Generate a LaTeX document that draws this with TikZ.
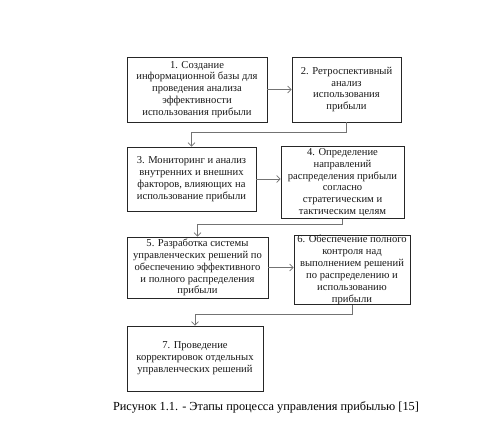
\documentclass[tikz,border=0pt]{standalone}
\usepackage{fontspec}
\setmainfont{Liberation Serif}
\usetikzlibrary{arrows.meta}
\tikzset{
  stage/.style={draw=black!85, line width=0.9pt, inner sep=0pt, align=center,
    text=black!90, font=\fontsize{10.6}{11.9}\selectfont},
  link/.style={draw=black!55, line width=0.6pt,
    -{Straight Barb[length=3.5pt,width=7pt,line width=0.6pt]}},
  caption/.style={font=\fontsize{12.3}{14}\selectfont, text=black}
}
\begin{document}
\begin{tikzpicture}[x=1pt,y=-1pt]
\useasboundingbox[fill=white] (0,0) rectangle (499,440);
\node[stage, minimum width=140pt, minimum height=65pt] (b1) at (197,89.5)
  {1. Создание\\информационной базы для\\проведения анализа\\эффективности\\использования прибыли};
\node[stage, minimum width=109pt, minimum height=65pt] (b2) at (346.5,89.5)
  {2. Ретроспективный\\анализ\\использования\\прибыли};
\node[stage, minimum width=129pt, minimum height=64pt] (b3) at (191.5,179)
  {3. Мониторинг и анализ\\внутренних и внешних\\факторов, влияющих на\\использование прибыли};
\node[stage, minimum width=123pt, minimum height=72pt] (b4) at (342.5,182.5)
  {4. Определение\\направлений\\распределения прибыли\\согласно\\стратегическим и\\тактическим целям};
\node[stage, minimum width=141pt, minimum height=61pt] (b5) at (197.5,267.5)
  {5. Разработка системы\\управленческих решений по\\обеспечению эффективного\\и полного распределения\\прибыли};
\node[stage, minimum width=116pt, minimum height=66pt] (b6) at (352,270)
  {6. Обеспечение полного\\контроля над\\выполнением решений\\по распределению и\\использованию\\прибыли};
\node[stage, minimum width=136pt, minimum height=65pt] (b7) at (195,358.5)
  {7. Проведение\\корректировок отдельных\\управленческих решений};
\node[caption] (cap) at (266,407) {Рисунок 1.1. - Этапы процесса управления прибылью [15]};
\coordinate (m23) at (0,132);
\coordinate (m45) at (0,224);
\coordinate (m67) at (0,314);
\draw[link] (b1.east) -- (b1.east -| b2.west);
\draw[link] (b3.east) -- (b3.east -| b4.west);
\draw[link] (b5.east) -- (b5.east -| b6.west);
\draw[link] (b2.south) -- (b2.south |- m23) -- (b3.north |- m23) -- (b3.north);
\draw[link] (b4.south) -- (b4.south |- m45) -- (b5.north |- m45) -- (b5.north);
\draw[link] (b6.south) -- (b6.south |- m67) -- (b7.north |- m67) -- (b7.north);
\end{tikzpicture}
\end{document}
